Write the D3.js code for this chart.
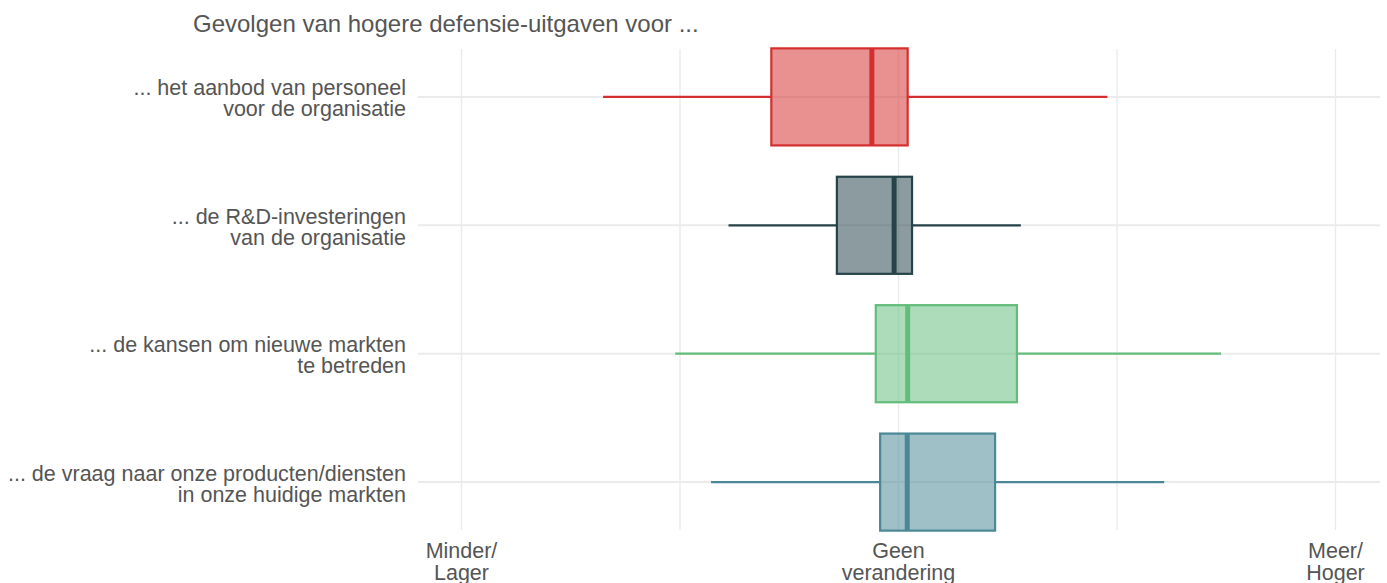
<!DOCTYPE html>
<html>
<head>
<meta charset="utf-8">
<script src="https://cdn.jsdelivr.net/npm/d3@7"></script>
<style>
  body { margin: 0; background: #fff; }
  svg { display: block; font-family: "Liberation Sans", Arial, sans-serif; }
</style>
</head>
<body>
<svg id="chart" width="1387" height="583"></svg>
<script>
// ---- data ----
const categories = [
  ["... het aanbod van personeel", "voor de organisatie"],
  ["... de R&D-investeringen", "van de organisatie"],
  ["... de kansen om nieuwe markten", "te betreden"],
  ["... de vraag naar onze producten/diensten", "in onze huidige markten"]
];
const whiskerLow  = [-0.676, -0.389, -0.511, -0.429];
const q1          = [-0.291, -0.141, -0.052, -0.042];
const median      = [-0.061, -0.010,  0.021,  0.020];
const q3          = [ 0.021,  0.031,  0.271,  0.221];
const whiskerHigh = [ 0.478,  0.280,  0.738,  0.608];
const colors      = ["#d52e2e", "#26434a", "#62bd7a", "#4b8896"];
const tickValues  = [-1, 0, 1];
const tickLabels  = [["Minder/", "Lager"], ["Geen", "verandering"], ["Meer/", "Hoger"]];
const minorTicks  = [-0.5, 0.5];
const title = "Gevolgen van hogere defensie-uitgaven voor ...";

const svg = d3.select("#chart");
const textColor = "#555555";
const gridColor = "#ebebeb";

const x = d3.scaleLinear().domain([-1, 1]).range([461.5, 1335.5]);
const panelX0 = 418, panelX1 = 1380;
const y = d3.scalePoint().domain(d3.range(categories.length)).range([49, 530]).padding(0.373);
const step = y.step();
const halfH = step * 0.378;

const g = svg.append("g");

// vertical grid lines
g.selectAll("line.vgrid").data(tickValues.concat(minorTicks)).join("line")
  .attr("x1", d => x(d)).attr("x2", d => x(d))
  .attr("y1", 49).attr("y2", 530)
  .attr("stroke", gridColor).attr("stroke-width", 1.4);

// horizontal grid lines
g.selectAll("line.hgrid").data(d3.range(categories.length)).join("line")
  .attr("x1", panelX0).attr("x2", panelX1)
  .attr("y1", d => y(d)).attr("y2", d => y(d))
  .attr("stroke", gridColor).attr("stroke-width", 2);

const data = categories.map((c, i) => ({
  i, lo: whiskerLow[i], q1: q1[i], med: median[i], q3: q3[i], hi: whiskerHigh[i], color: colors[i]
}));

const box = g.selectAll("g.box").data(data).join("g");

box.append("line")
  .attr("x1", d => x(d.lo)).attr("x2", d => x(d.q1))
  .attr("y1", d => y(d.i)).attr("y2", d => y(d.i))
  .attr("stroke", d => d.color).attr("stroke-width", 2.2);
box.append("line")
  .attr("x1", d => x(d.q3)).attr("x2", d => x(d.hi))
  .attr("y1", d => y(d.i)).attr("y2", d => y(d.i))
  .attr("stroke", d => d.color).attr("stroke-width", 2.2);
box.append("rect")
  .attr("x", d => x(d.q1)).attr("width", d => x(d.q3) - x(d.q1))
  .attr("y", d => y(d.i) - halfH).attr("height", halfH * 2)
  .attr("fill", d => d.color).attr("fill-opacity", 0.53)
  .attr("stroke", d => d.color).attr("stroke-width", 2.2);
box.append("line")
  .attr("x1", d => x(d.med)).attr("x2", d => x(d.med))
  .attr("y1", d => y(d.i) - halfH).attr("y2", d => y(d.i) + halfH)
  .attr("stroke", d => d.color).attr("stroke-width", 5);

// y axis labels
const yl = svg.selectAll("text.ylab").data(categories).join("text")
  .attr("x", 406).attr("y", (d, i) => y(i))
  .attr("text-anchor", "end").attr("fill", textColor)
  .style("font-size", "21.5px");
yl.selectAll("tspan").data(d => d).join("tspan")
  .attr("x", 406).attr("dy", (d, j) => j === 0 ? "-1.5" : "21")
  .text(d => d);

// x axis labels
const xl = svg.selectAll("text.xlab").data(tickValues).join("text")
  .attr("x", d => x(d)).attr("y", 558)
  .attr("text-anchor", "middle").attr("fill", textColor)
  .style("font-size", "21.5px");
xl.selectAll("tspan").data((d, i) => tickLabels[i]).join("tspan")
  .attr("x", function() { return this.parentNode.getAttribute("x"); })
  .attr("dy", (d, j) => j === 0 ? 0 : 22)
  .text(d => d);

// title
svg.append("text").attr("x", 193).attr("y", 32)
  .attr("fill", textColor).style("font-size", "24px")
  .text(title);
</script>
</body>
</html>
